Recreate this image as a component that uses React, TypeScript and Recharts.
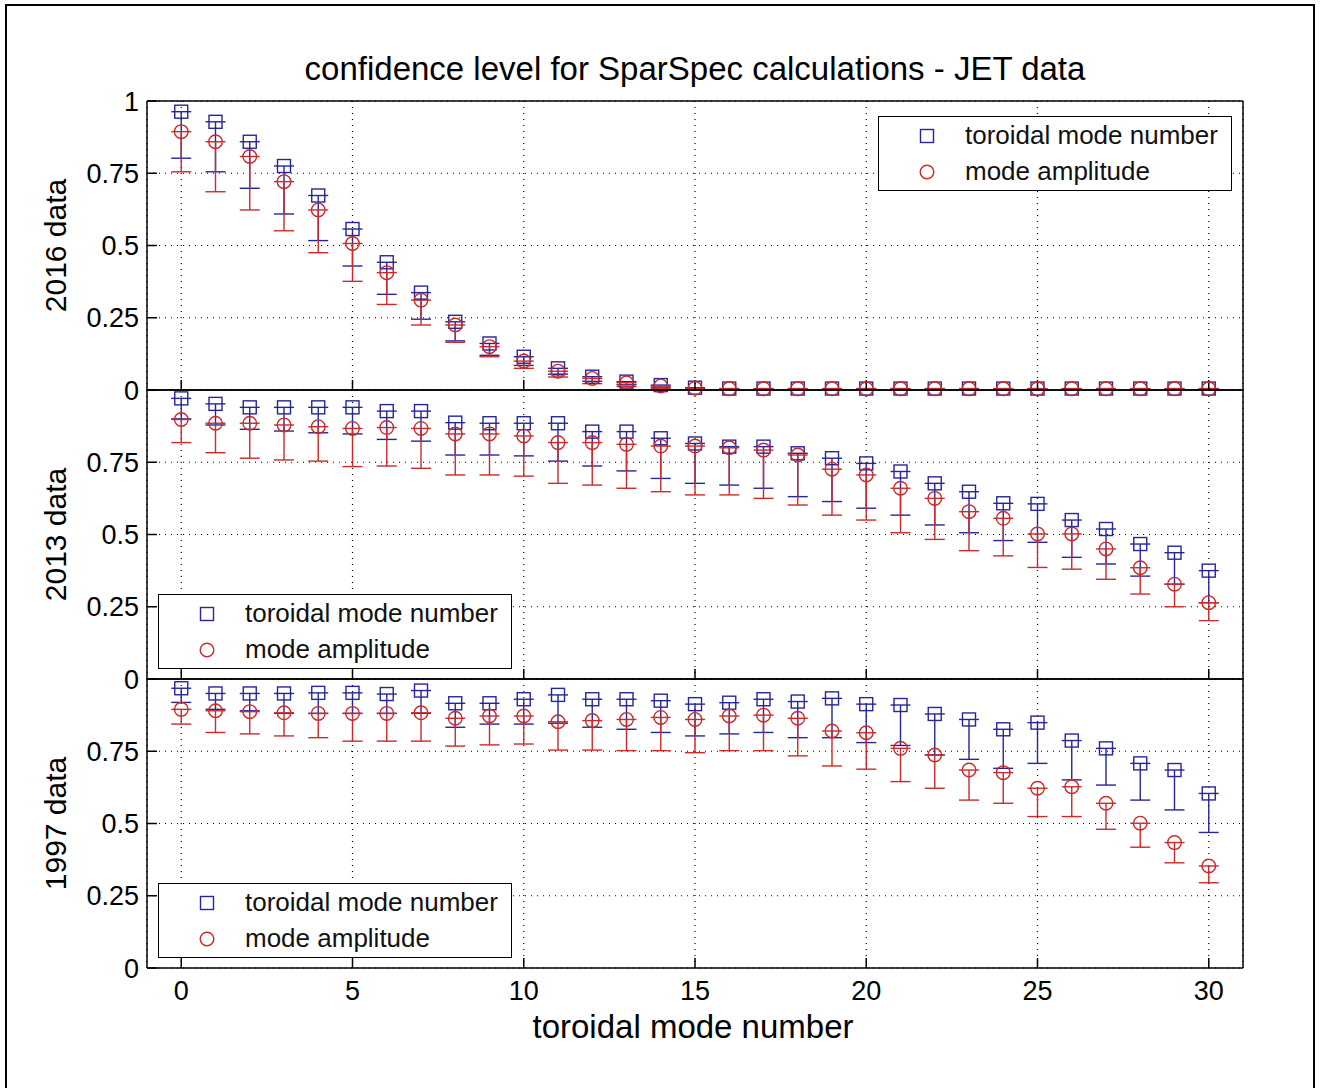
import React from 'react';
import { ScatterChart, Scatter, XAxis, YAxis, CartesianGrid, ErrorBar } from 'recharts';

// toroidal mode numbers (x axis)
const modes = [0, 1, 2, 3, 4, 5, 6, 7, 8, 9, 10, 11, 12, 13, 14, 15, 16, 17, 18, 19, 20, 21, 22, 23, 24, 25, 26, 27, 28, 29, 30];
const xTicks = [0, 5, 10, 15, 20, 25, 30];
const yTicksTop = [0, 0.25, 0.5, 0.75, 1];
const yTicksLower = [0, 0.25, 0.5, 0.75];

// 2016 data
const tmn2016 = [0.963, 0.928, 0.859, 0.775, 0.673, 0.557, 0.442, 0.337, 0.236, 0.161, 0.115, 0.075, 0.046, 0.029, 0.017, 0.008, 0.005, 0.005, 0.005, 0.005, 0.005, 0.005, 0.005, 0.005, 0.005, 0.005, 0.005, 0.005, 0.005, 0.005, 0.005];
const tmn2016Low = [0.802, 0.755, 0.698, 0.609, 0.517, 0.429, 0.331, 0.245, 0.17, 0.12, 0.085, 0.055, 0.03, 0.018, 0.01, 0.004, 0.003, 0.003, 0.003, 0.003, 0.003, 0.003, 0.003, 0.003, 0.003, 0.003, 0.003, 0.003, 0.003, 0.003, 0.003];
const amp2016 = [0.894, 0.859, 0.808, 0.721, 0.623, 0.507, 0.406, 0.311, 0.225, 0.15, 0.1, 0.065, 0.04, 0.025, 0.014, 0.006, 0.004, 0.004, 0.004, 0.004, 0.004, 0.004, 0.004, 0.004, 0.004, 0.004, 0.004, 0.004, 0.004, 0.004, 0.004];
const amp2016Low = [0.755, 0.686, 0.623, 0.551, 0.475, 0.376, 0.296, 0.225, 0.165, 0.115, 0.075, 0.045, 0.022, 0.012, 0.006, 0.002, 0.002, 0.002, 0.002, 0.002, 0.002, 0.002, 0.002, 0.002, 0.002, 0.002, 0.002, 0.002, 0.002, 0.002, 0.002];

// 2013 data
const tmn2013 = [0.971, 0.952, 0.94, 0.94, 0.94, 0.94, 0.927, 0.927, 0.887, 0.885, 0.885, 0.885, 0.856, 0.856, 0.833, 0.815, 0.804, 0.804, 0.781, 0.764, 0.746, 0.718, 0.677, 0.648, 0.608, 0.606, 0.55, 0.519, 0.467, 0.437, 0.375];
const tmn2013Low = [0.9, 0.879, 0.864, 0.858, 0.852, 0.848, 0.829, 0.823, 0.775, 0.775, 0.772, 0.754, 0.737, 0.72, 0.694, 0.677, 0.671, 0.66, 0.631, 0.614, 0.591, 0.567, 0.533, 0.506, 0.479, 0.473, 0.421, 0.398, 0.356, 0.328, 0.264];
const amp2013 = [0.898, 0.885, 0.885, 0.879, 0.873, 0.867, 0.87, 0.867, 0.848, 0.848, 0.841, 0.818, 0.818, 0.812, 0.806, 0.806, 0.8, 0.792, 0.775, 0.726, 0.706, 0.66, 0.625, 0.579, 0.556, 0.502, 0.502, 0.45, 0.385, 0.328, 0.264];
const amp2013Low = [0.818, 0.783, 0.764, 0.758, 0.754, 0.735, 0.737, 0.729, 0.706, 0.706, 0.702, 0.677, 0.671, 0.66, 0.648, 0.637, 0.637, 0.625, 0.602, 0.567, 0.55, 0.506, 0.483, 0.444, 0.426, 0.386, 0.38, 0.345, 0.294, 0.25, 0.202];

// 1997 data
const tmn1997 = [0.968, 0.95, 0.95, 0.95, 0.952, 0.952, 0.948, 0.96, 0.916, 0.916, 0.93, 0.945, 0.93, 0.93, 0.925, 0.913, 0.918, 0.93, 0.922, 0.933, 0.913, 0.91, 0.879, 0.86, 0.826, 0.849, 0.787, 0.76, 0.708, 0.685, 0.604];
const tmn1997Low = [0.919, 0.895, 0.89, 0.881, 0.881, 0.881, 0.881, 0.881, 0.833, 0.844, 0.844, 0.847, 0.833, 0.826, 0.815, 0.803, 0.81, 0.815, 0.797, 0.797, 0.78, 0.77, 0.737, 0.722, 0.691, 0.708, 0.651, 0.633, 0.581, 0.547, 0.469];
const amp1997 = [0.895, 0.89, 0.887, 0.883, 0.881, 0.881, 0.881, 0.883, 0.864, 0.872, 0.872, 0.852, 0.856, 0.86, 0.867, 0.86, 0.872, 0.875, 0.864, 0.82, 0.814, 0.76, 0.737, 0.685, 0.676, 0.622, 0.627, 0.57, 0.501, 0.434, 0.353];
const amp1997Low = [0.844, 0.815, 0.81, 0.803, 0.797, 0.785, 0.785, 0.785, 0.768, 0.772, 0.775, 0.754, 0.754, 0.752, 0.752, 0.745, 0.752, 0.752, 0.734, 0.699, 0.688, 0.645, 0.622, 0.581, 0.57, 0.524, 0.524, 0.48, 0.418, 0.364, 0.295];

const BLUE = '#26269a';
const RED = '#cc2a2a';
const FONT = "'Liberation Sans', Arial, Helvetica, sans-serif";

const PLOT_LEFT = 147;
const PLOT_RIGHT = 1243;
const PANEL_H = 289;
const PAD = 22;

const rows = (vals: number[], lows: number[]) =>
  modes.map((m, i) => ({ x: m, v: vals[i], err: [vals[i] - lows[i], 0] }));

const squareShape = (p: any) => (
  <rect x={p.cx - 6.5} y={p.cy - 6.5} width={13} height={13} fill="none" stroke={BLUE} strokeWidth={1.4} />
);
const circleShape = (p: any) => (
  <circle cx={p.cx} cy={p.cy} r={6.8} fill="none" stroke={RED} strokeWidth={1.4} />
);

const yLabel = (text: string) => (props: any) => {
  const vb = props.viewBox;
  const cx = 55;
  const cy = vb.y + vb.height / 2;
  return (
    <text x={cx} y={cy} transform={`rotate(-90 ${cx} ${cy})`} textAnchor="middle" dominantBaseline="central"
      fontSize={30} fontFamily={FONT} fill="#000">
      {text}
    </text>
  );
};

function LegendBox({ left, top }: { left: number; top: number }) {
  return (
    <div style={{ position: 'absolute', left, top, width: 354, height: 75, border: '1.5px solid #000', background: '#fff', boxSizing: 'border-box', fontFamily: FONT, fontSize: 26, color: '#111' }}>
      <svg width={20} height={20} style={{ position: 'absolute', left: 38, top: 9 }}>
        <rect x={3.5} y={3.5} width={13} height={13} fill="none" stroke={BLUE} strokeWidth={1.4} />
      </svg>
      <svg width={20} height={20} style={{ position: 'absolute', left: 38, top: 45 }}>
        <circle cx={10} cy={10} r={6.8} fill="none" stroke={RED} strokeWidth={1.4} />
      </svg>
      <div style={{ position: 'absolute', left: 86, top: 3, whiteSpace: 'nowrap' }}>toroidal mode number</div>
      <div style={{ position: 'absolute', left: 86, top: 39, whiteSpace: 'nowrap' }}>mode amplitude</div>
    </div>
  );
}

interface PanelProps {
  top: number;
  label: string;
  tmn: number[];
  tmnLow: number[];
  amp: number[];
  ampLow: number[];
  yTicks: number[];
  bottomLabels: boolean;
}

function Panel({ top, label, tmn, tmnLow, amp, ampLow, yTicks, bottomLabels }: PanelProps) {
  const extra = bottomLabels ? 60 : 0;
  const h = PANEL_H + 2 * PAD + extra;
  const axisStyle = { stroke: '#000', strokeWidth: 1.5 };
  const blank = () => '';
  return (
    <div style={{ position: 'absolute', left: 0, top: top - PAD, width: 1320, height: h }}>
      <ScatterChart width={1320} height={h}
        margin={{ top: PAD - 1, right: 1320 - PLOT_RIGHT - 1, bottom: PAD + extra - 1, left: PLOT_LEFT - 80 }}>
        <CartesianGrid stroke="#000" strokeDasharray="1 5" strokeWidth={1.2} />
        <XAxis dataKey="x" type="number" domain={[-1, 31]} ticks={xTicks} interval={0} height={1}
          axisLine={axisStyle} tickLine={axisStyle} tickSize={-10} tickMargin={23}
          tickFormatter={bottomLabels ? undefined : blank}
          tick={{ fontSize: 27, fill: '#000', fontFamily: FONT }} />
        <XAxis xAxisId="t" orientation="top" type="number" domain={[-1, 31]} ticks={xTicks} interval={0} height={1}
          axisLine={axisStyle} tickLine={axisStyle} tickSize={-10} tickMargin={0} tickFormatter={blank} />
        <YAxis dataKey="v" type="number" domain={[0, 1]} ticks={yTicks} interval={0} width={80}
          axisLine={axisStyle} tickLine={axisStyle} tickSize={-10} tickMargin={18}
          tick={{ fontSize: 27, fill: '#000', fontFamily: FONT }}
          label={yLabel(label)} />
        <YAxis yAxisId="r" orientation="right" type="number" domain={[0, 1]} ticks={yTicks} interval={0} width={1}
          axisLine={axisStyle} tickLine={axisStyle} tickSize={-10} tickMargin={0} tickFormatter={blank} />
        <Scatter data={rows(tmn, tmnLow)} shape={squareShape} isAnimationActive={false}>
          <ErrorBar dataKey="err" direction="y" width={10} stroke={BLUE} strokeWidth={1.4} isAnimationActive={false} />
        </Scatter>
        <Scatter data={rows(amp, ampLow)} shape={circleShape} isAnimationActive={false}>
          <ErrorBar dataKey="err" direction="y" width={10} stroke={RED} strokeWidth={1.4} isAnimationActive={false} />
        </Scatter>
      </ScatterChart>
    </div>
  );
}

export default function App() {
  return (
    <div style={{ position: 'absolute', left: 0, top: 0, width: 1320, height: 1088, background: '#fff', overflow: 'hidden' }}>
      <div style={{ position: 'absolute', left: 5, top: 4, width: 1310, height: 1100, borderTop: '2px solid #000', borderLeft: '2px solid #000', borderRight: '2px solid #000', boxSizing: 'border-box' }} />
      <div style={{ position: 'absolute', left: 0, width: 1390, top: 50, textAlign: 'center', fontFamily: FONT, fontSize: 33, color: '#000', whiteSpace: 'nowrap' }}>
        confidence level for SparSpec calculations - JET data
      </div>
      <Panel top={101} label="2016 data" tmn={tmn2016} tmnLow={tmn2016Low} amp={amp2016} ampLow={amp2016Low} yTicks={yTicksTop} bottomLabels={false} />
      <Panel top={390} label="2013 data" tmn={tmn2013} tmnLow={tmn2013Low} amp={amp2013} ampLow={amp2013Low} yTicks={yTicksLower} bottomLabels={false} />
      <Panel top={679} label="1997 data" tmn={tmn1997} tmnLow={tmn1997Low} amp={amp1997} ampLow={amp1997Low} yTicks={yTicksLower} bottomLabels={true} />
      <LegendBox left={878} top={116} />
      <LegendBox left={158} top={594} />
      <LegendBox left={158} top={883} />
      <div style={{ position: 'absolute', left: 0, width: 1386, top: 1008, textAlign: 'center', fontFamily: FONT, fontSize: 33, color: '#000', whiteSpace: 'nowrap' }}>
        toroidal mode number
      </div>
    </div>
  );
}
